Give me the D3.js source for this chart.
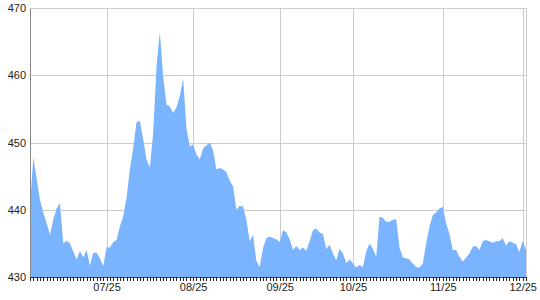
<!DOCTYPE html>
<html lang="en">
<head>
    <meta charset="UTF-8">
    <title>Area</title>
    <script src="https://d3js.org/d3.v7.min.js"></script>
    <style>
        body {margin: 0; background: #fff;}
        text {
            font-family: "Liberation Sans", Arial, sans-serif;
            font-size: 11px;
            fill: #222;
        }
    </style>
</head>
<body>
<script>
    const width = 540;
    const height = 300;

    // one value per trading day
    const values = [
        440.7, 447.8, 444.6, 441.5, 439.6, 438.0, 436.3, 438.6, 440.2, 441.0,
        435.0, 435.4, 435.0, 433.8, 432.6, 433.9, 432.9, 434.0, 431.7, 433.6,
        433.6, 432.8, 431.6, 434.4, 434.4, 435.2, 435.5, 437.5, 439.0, 441.8,
        446.0, 449.2, 453.0, 453.2, 450.5, 447.5, 446.3, 451.4, 461.3, 466.4,
        459.9, 455.6, 455.4, 454.4, 455.2, 456.9, 459.5, 452.2, 449.4, 449.7,
        448.2, 447.5, 449.1, 449.6, 450.0, 448.8, 446.0, 446.2, 446.0, 445.6,
        444.3, 443.5, 440.0, 440.6, 440.5, 438.5, 435.3, 436.3, 432.4, 431.5,
        434.3, 435.8, 436.0, 435.8, 435.6, 435.2, 437.0, 436.6, 435.6, 434.0,
        434.6, 434.0, 434.4, 433.9, 435.3, 437.0, 437.2, 436.6, 436.4, 434.2,
        434.8, 433.5, 432.5, 434.2, 433.5, 432.1, 432.6, 432.0, 431.4, 431.8,
        431.5, 433.8, 435.0, 434.2, 433.0, 439.0, 438.8, 438.2, 438.2, 438.5,
        438.6, 434.4, 432.9, 432.8, 432.6, 432.0, 431.5, 431.4, 432.0, 435.0,
        437.5, 439.2, 439.6, 440.2, 440.4, 438.0, 436.4, 434.0, 434.0, 433.0,
        432.3, 432.9, 433.5, 434.5, 434.6, 434.0, 435.3, 435.5, 435.3, 435.1,
        435.3, 435.3, 435.8, 434.7, 435.3, 435.1, 434.9, 433.7, 435.4, 434.0
    ];

    // label positions on the day axis
    const tickIndex  = [23, 49, 75, 97, 124, 148];
    const tickLabels = ["07/25", "08/25", "09/25", "10/25", "11/25", "12/25"];
    const yTicks     = [430, 440, 450, 460, 470];

    const margin = {top: 8, right: 14, bottom: 23, left: 30};

    const svg = d3.select("body").append("svg")
            .attr("width", width).attr("height", height);

    const x = d3.scaleLinear()
            .domain([0, values.length - 1])
            .range([margin.left, width - margin.right]);

    const y = d3.scaleLinear()
            .domain([430, 470])
            .range([height - margin.bottom, margin.top]);

    // grid
    svg.append("g")
            .attr("transform", `translate(0,${height - margin.bottom})`)
            .call(d3.axisBottom(x).tickValues(tickIndex.concat([values.length - 1]))
                    .tickSize(-(height - margin.top - margin.bottom)).tickFormat(""))
            .call(g => g.select(".domain").remove())
            .call(g => g.selectAll("line").attr("stroke", "#cccccc"))
            .attr("shape-rendering", "crispEdges");

    svg.append("g")
            .attr("transform", `translate(${margin.left},0)`)
            .call(d3.axisLeft(y).tickValues(yTicks)
                    .tickSize(-(width - margin.left - margin.right)).tickFormat(""))
            .call(g => g.select(".domain").remove())
            .call(g => g.selectAll("line").attr("stroke", "#cccccc"))
            .attr("shape-rendering", "crispEdges");

    // the area
    const area = d3.area()
            .x((d, i) => x(i))
            .y0(y(430))
            .y1(d => y(d));

    svg.append("path")
            .datum(values)
            .attr("d", area)
            .style("fill", "#7ab4ff");

    // y axis
    svg.append("g")
            .attr("transform", `translate(${margin.left},0)`)
            .call(d3.axisLeft(y).tickValues(yTicks).tickSize(0).tickPadding(4))
            .call(g => g.select(".domain").attr("stroke", "#888"))
            .call(g => g.selectAll("text").style("font-size", "11px").attr("fill", "#222"))
            .attr("shape-rendering", "crispEdges")
            .attr("font-family", null);

    // x axis, a tick for every day
    const labelAt = new Map(tickIndex.map((t, i) => [t, tickLabels[i]]));
    svg.append("g")
            .attr("transform", `translate(0,${height - margin.bottom})`)
            .call(d3.axisBottom(x).tickValues(d3.range(values.length))
                    .tickSize(4).tickSizeOuter(0).tickPadding(2)
                    .tickFormat(i => labelAt.get(i) || ""))
            .call(g => g.select(".domain").attr("stroke", "#444"))
            .call(g => g.selectAll("line").attr("stroke", "#222"))
            .call(g => g.selectAll("text").style("font-size", "11px").attr("fill", "#222"))
            .attr("shape-rendering", "crispEdges")
            .attr("font-family", null);
</script>
</body>
</html>
